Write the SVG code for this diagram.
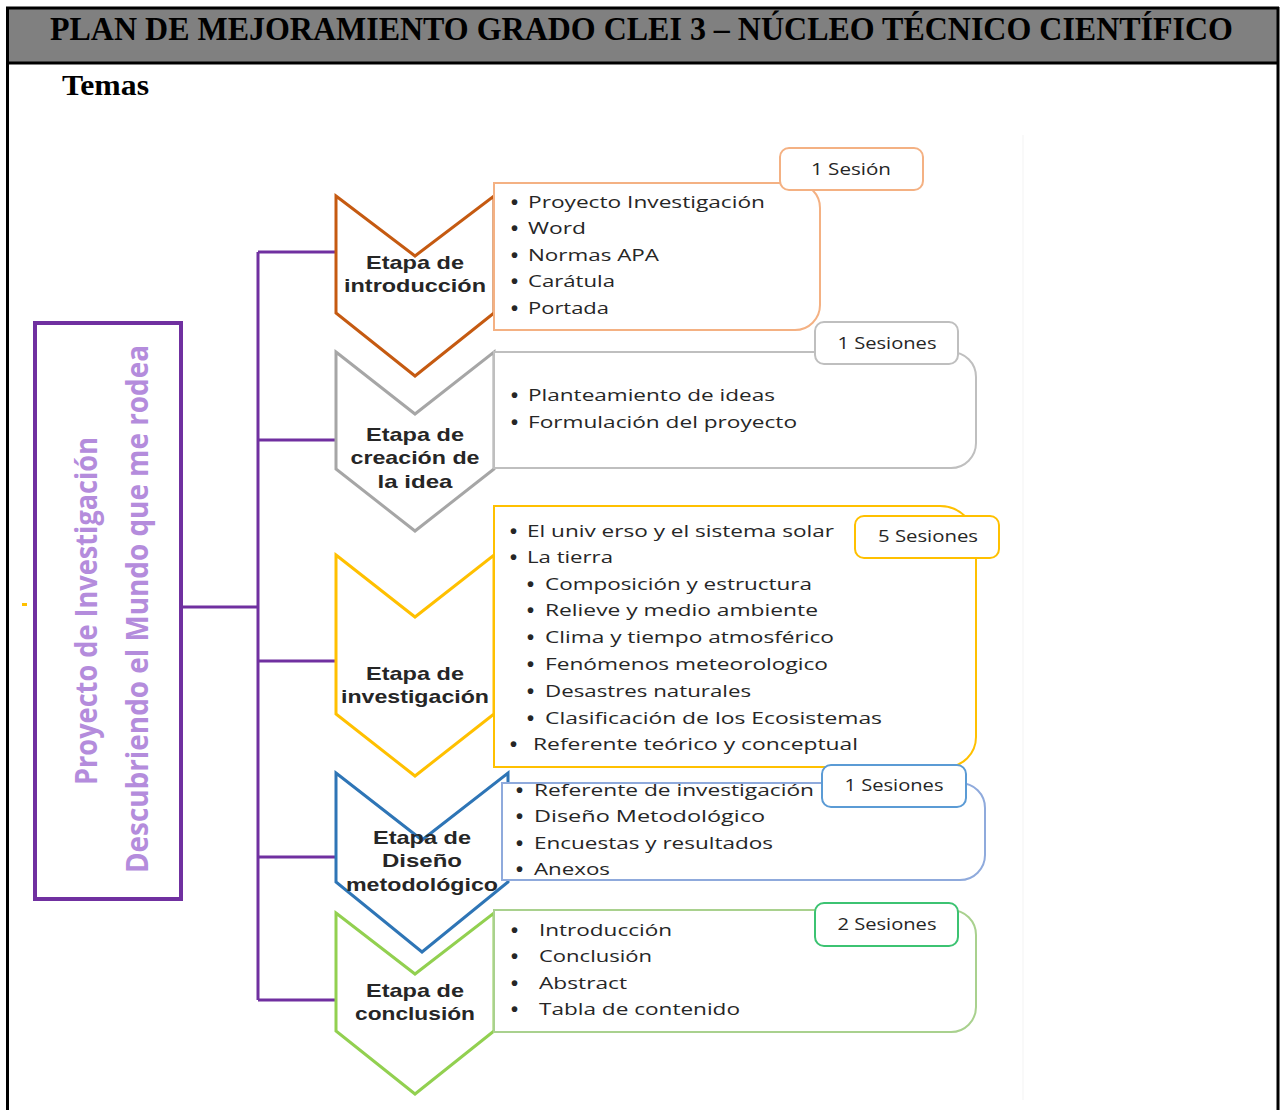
<svg xmlns="http://www.w3.org/2000/svg" width="1280" height="1110" viewBox="0 0 1280 1110">
<style>
.hdr{font-family:"Liberation Serif",serif;font-weight:bold;fill:#000}
.lst{font-family:"Open Sans","Liberation Sans",sans-serif;font-size:17px;fill:#262626}
.bul{font-family:"Liberation Sans",sans-serif;font-size:20px;font-weight:bold;fill:#262626}
.bdg{font-family:"Open Sans","Liberation Sans",sans-serif;font-size:16px;fill:#262626;text-anchor:middle}
.lbl{font-family:"Liberation Sans",sans-serif;font-size:19px;font-weight:bold;fill:#262626;text-anchor:middle}
.vt{font-family:"Open Sans","Liberation Sans",sans-serif;font-size:30px;font-weight:bold;fill:#B48CDC;text-anchor:middle}
.conn{stroke:#7030A0;stroke-width:3;fill:none}
.chev{fill:#fff;stroke-width:3;stroke-linejoin:miter}
.box{fill:#fff;stroke-width:2}
.badge{fill:#fff;stroke-width:2}
</style>
<rect x="0" y="0" width="1280" height="1110" fill="#fff"/>
<g id="frame">
<rect x="7" y="8" width="1271" height="55" fill="#808080"/>
<line x1="6" y1="8" x2="1279" y2="8" stroke="#000" stroke-width="3"/>
<line x1="6" y1="63" x2="1279" y2="63" stroke="#000" stroke-width="3"/>
<line x1="7.5" y1="7" x2="7.5" y2="1110" stroke="#000" stroke-width="3"/>
<line x1="1278" y1="7" x2="1278" y2="1110" stroke="#000" stroke-width="3"/>
<line x1="1023" y1="135" x2="1023" y2="1100" stroke="#f3f3f3" stroke-width="1"/>
<text class="hdr" x="50" y="40" font-size="33" textLength="1183" lengthAdjust="spacingAndGlyphs">PLAN DE MEJORAMIENTO GRADO CLEI 3 – NÚCLEO TÉCNICO CIENTÍFICO</text>
<text class="hdr" x="62" y="95" font-size="30" textLength="87" lengthAdjust="spacingAndGlyphs">Temas</text>
<rect x="22" y="603" width="5" height="3" fill="#FFC000"/>
</g>
<g id="connectors">
<path class="conn" d="M182,607 H258 M258,252 V1000 M258,252 H336 M258,440 H338 M258,661 H338 M258,857 H338 M258,1000 H336"/>
</g>
<g id="root">
<rect x="35" y="323" width="146" height="576" fill="#fff" stroke="#7030A0" stroke-width="4"/>
<text class="vt" transform="translate(97,611) rotate(-90)" textLength="348" lengthAdjust="spacingAndGlyphs">Proyecto de Investigación</text>
<text class="vt" transform="translate(148,609) rotate(-90)" textLength="528" lengthAdjust="spacingAndGlyphs">Descubriendo el Mundo que me rodea</text>
</g>
<g id="stage1">
<polygon class="chev" stroke="#C55A11" points="336,196 415,256 494,196 494,313 415,376 336,313"/>
<path class="box" stroke="#F4B183" d="M494,183 H795 A25,25 0 0 1 820,208 V305 A25,25 0 0 1 795,330 H494 Z"/>
<text class="lbl" x="415" y="269" textLength="98" lengthAdjust="spacingAndGlyphs">Etapa de</text>
<text class="lbl" x="415" y="292" textLength="142" lengthAdjust="spacingAndGlyphs">introducción</text>
<g class="bul">
<text x="511" y="209">•</text><text x="511" y="235">•</text><text x="511" y="262">•</text><text x="511" y="288">•</text><text x="511" y="315">•</text>
</g>
<g class="lst">
<text x="528" y="208" textLength="237" lengthAdjust="spacingAndGlyphs">Proyecto Investigación</text>
<text x="528" y="234" textLength="58" lengthAdjust="spacingAndGlyphs">Word</text>
<text x="528" y="261" textLength="131" lengthAdjust="spacingAndGlyphs">Normas APA</text>
<text x="528" y="287" textLength="87" lengthAdjust="spacingAndGlyphs">Carátula</text>
<text x="528" y="314" textLength="81" lengthAdjust="spacingAndGlyphs">Portada</text>
</g>
<rect class="badge" stroke="#F4B183" x="780" y="148" width="143" height="42" rx="9"/>
<text class="bdg" x="851" y="175" textLength="80" lengthAdjust="spacingAndGlyphs">1 Sesión</text>
</g>
<g id="stage2">
<polygon class="chev" stroke="#A6A6A6" points="336,352 415,414 494,352 494,469 415,531 336,469"/>
<path class="box" stroke="#BFBFBF" d="M494,352 H951 A25,25 0 0 1 976,377 V443 A25,25 0 0 1 951,468 H494 Z"/>
<text class="lbl" x="415" y="441" textLength="98" lengthAdjust="spacingAndGlyphs">Etapa de</text>
<text class="lbl" x="415" y="464" textLength="129" lengthAdjust="spacingAndGlyphs">creación de</text>
<text class="lbl" x="415" y="488" textLength="75" lengthAdjust="spacingAndGlyphs">la idea</text>
<g class="bul"><text x="511" y="402">•</text><text x="511" y="429">•</text></g>
<g class="lst">
<text x="528" y="401" textLength="247" lengthAdjust="spacingAndGlyphs">Planteamiento de ideas</text>
<text x="528" y="428" textLength="269" lengthAdjust="spacingAndGlyphs">Formulación del proyecto</text>
</g>
<rect class="badge" stroke="#BFBFBF" x="815" y="322" width="143" height="42" rx="9"/>
<text class="bdg" x="887" y="349" textLength="99" lengthAdjust="spacingAndGlyphs">1 Sesiones</text>
</g>
<g id="stage3">
<polygon class="chev" stroke="#FFC000" points="336,555 415,617 494,555 494,714 415,776 336,714"/>
<path class="box" stroke="#FFC000" d="M494,506 H940 A36,36 0 0 1 976,542 V737 A30,30 0 0 1 946,767 H494 Z"/>
<text class="lbl" x="415" y="680" textLength="98" lengthAdjust="spacingAndGlyphs">Etapa de</text>
<text class="lbl" x="415" y="703" textLength="148" lengthAdjust="spacingAndGlyphs">investigación</text>
<g class="bul">
<text x="510" y="538">•</text><text x="510" y="564">•</text>
<text x="527" y="591">•</text><text x="527" y="617">•</text><text x="527" y="644">•</text><text x="527" y="671">•</text><text x="527" y="698">•</text><text x="527" y="725">•</text>
<text x="510" y="751">•</text>
</g>
<g class="lst">
<text x="527" y="537" textLength="307" lengthAdjust="spacingAndGlyphs">El univ erso y el sistema solar</text>
<text x="527" y="563" textLength="86" lengthAdjust="spacingAndGlyphs">La tierra</text>
<text x="545" y="590" textLength="267" lengthAdjust="spacingAndGlyphs">Composición y estructura</text>
<text x="545" y="616" textLength="273" lengthAdjust="spacingAndGlyphs">Relieve y medio ambiente</text>
<text x="545" y="643" textLength="289" lengthAdjust="spacingAndGlyphs">Clima y tiempo atmosférico</text>
<text x="545" y="670" textLength="283" lengthAdjust="spacingAndGlyphs">Fenómenos meteorologico</text>
<text x="545" y="697" textLength="206" lengthAdjust="spacingAndGlyphs">Desastres naturales</text>
<text x="545" y="724" textLength="337" lengthAdjust="spacingAndGlyphs">Clasificación  de los Ecosistemas</text>
<text x="533" y="750" textLength="325" lengthAdjust="spacingAndGlyphs">Referente teórico y conceptual</text>
</g>
<rect class="badge" stroke="#FFC000" x="855" y="516" width="144" height="42" rx="9"/>
<text class="bdg" x="928" y="542" textLength="100" lengthAdjust="spacingAndGlyphs">5 Sesiones</text>
</g>
<g id="stage4">
<polygon class="chev" stroke="#2E75B6" points="336,773 422,840 508,773 508,882 422,952 336,882"/>
<path class="box" stroke="#8FAADC" d="M502,783 H960 A25,25 0 0 1 985,808 V855 A25,25 0 0 1 960,880 H502 Z"/>
<text class="lbl" x="422" y="844" textLength="98" lengthAdjust="spacingAndGlyphs">Etapa de</text>
<text class="lbl" x="422" y="867" textLength="80" lengthAdjust="spacingAndGlyphs">Diseño</text>
<text class="lbl" x="422" y="891" textLength="152" lengthAdjust="spacingAndGlyphs">metodológico</text>
<g class="bul"><text x="516" y="797">•</text><text x="516" y="823">•</text><text x="516" y="850">•</text><text x="516" y="876">•</text></g>
<g class="lst">
<text x="534" y="796" textLength="280" lengthAdjust="spacingAndGlyphs">Referente de investigación</text>
<text x="534" y="822" textLength="231" lengthAdjust="spacingAndGlyphs">Diseño  Metodológico</text>
<text x="534" y="849" textLength="239" lengthAdjust="spacingAndGlyphs">Encuestas y resultados</text>
<text x="534" y="875" textLength="76" lengthAdjust="spacingAndGlyphs">Anexos</text>
</g>
<rect class="badge" stroke="#5B9BD5" x="822" y="765" width="144" height="42" rx="9"/>
<text class="bdg" x="894" y="791" textLength="99" lengthAdjust="spacingAndGlyphs">1 Sesiones</text>
</g>
<g id="stage5">
<polygon class="chev" stroke="#92D050" points="336,913 415,974 494,913 494,1031 415,1094 336,1031"/>
<path class="box" stroke="#A9D18E" d="M494,910 H951 A25,25 0 0 1 976,935 V1007 A25,25 0 0 1 951,1032 H494 Z"/>
<text class="lbl" x="415" y="997" textLength="98" lengthAdjust="spacingAndGlyphs">Etapa de</text>
<text class="lbl" x="415" y="1020" textLength="120" lengthAdjust="spacingAndGlyphs">conclusión</text>
<g class="bul"><text x="511" y="937">•</text><text x="511" y="963">•</text><text x="511" y="990">•</text><text x="511" y="1016">•</text></g>
<g class="lst">
<text x="539" y="936" textLength="133" lengthAdjust="spacingAndGlyphs">Introducción</text>
<text x="539" y="962" textLength="113" lengthAdjust="spacingAndGlyphs">Conclusión</text>
<text x="539" y="989" textLength="88" lengthAdjust="spacingAndGlyphs">Abstract</text>
<text x="539" y="1015" textLength="201" lengthAdjust="spacingAndGlyphs">Tabla de contenido</text>
</g>
<rect class="badge" stroke="#3CC372" x="815" y="903" width="143" height="43" rx="9"/>
<text class="bdg" x="887" y="930" textLength="99" lengthAdjust="spacingAndGlyphs">2 Sesiones</text>
</g>
</svg>
